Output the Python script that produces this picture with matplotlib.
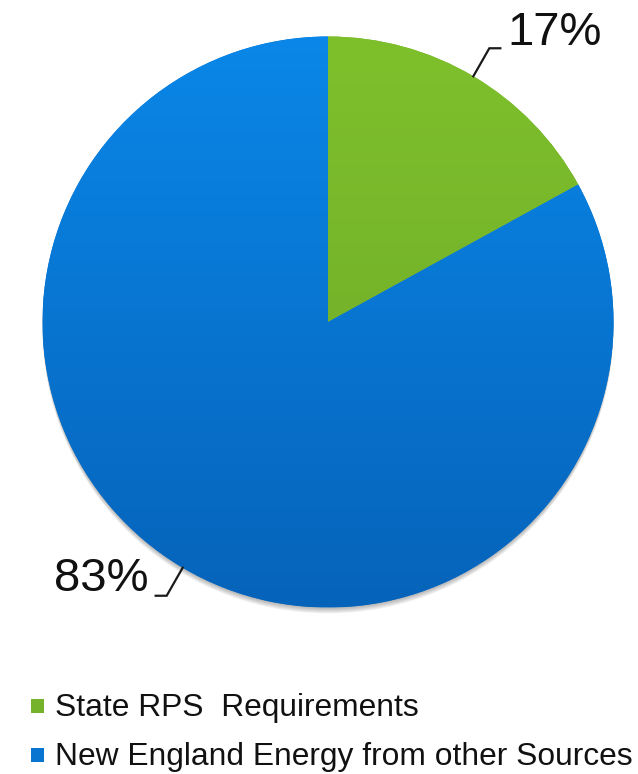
import numpy as np
import matplotlib
matplotlib.use("Agg")
import matplotlib.pyplot as plt
from matplotlib.colors import LinearSegmentedColormap
from matplotlib.patches import Circle, Rectangle

plt.rcParams['font.family'] = ['Liberation Sans', 'DejaVu Sans']

# Share of New England energy
categories = ["State RPS  Requirements", "New England Energy from other Sources"]
shares = [17, 83]
pct_labels = ["17%", "83%"]
top_colors = ["#7EC02C", "#0A87E8"]
bottom_colors = ["#6CA728", "#0663BA"]

W, H = 638, 774
fig = plt.figure(figsize=(W / 100, H / 100), dpi=100)
fig.patch.set_facecolor("white")

# Pie center / radius in pixels
cx, cy, R = 328, 322, 285.5
half = 300
ax = fig.add_axes([(cx - half) / W, (H - cy - half) / H, 2 * half / W, 2 * half / H])
lim = half / R
px = 1.0 / R  # one pixel in data units

# soft drop shadow, falling mostly below the pie
for k in range(1, 7):
    ax.add_patch(Circle((0, -k * px), 1.0, facecolor="black",
                        edgecolor="none", alpha=0.05, zorder=0))

mid_colors = []
for t, b in zip(top_colors, bottom_colors):
    c1 = np.array(matplotlib.colors.to_rgb(t))
    c2 = np.array(matplotlib.colors.to_rgb(b))
    mid_colors.append(tuple((c1 + c2) / 2))

wedges, _ = ax.pie(shares, startangle=90, counterclock=False, radius=1.0,
                   colors=mid_colors, wedgeprops=dict(linewidth=0, antialiased=True))
for w in wedges:
    w.set_zorder(1)

# vertical gradient fill clipped to each wedge
grad = np.linspace(0, 1, 256).reshape(-1, 1)
for w, t, b in zip(wedges, top_colors, bottom_colors):
    cmap = LinearSegmentedColormap.from_list("g", [t, b])
    im = ax.imshow(grad, extent=(-1, 1, -1, 1), origin="upper", cmap=cmap,
                   aspect="auto", zorder=2, interpolation="bilinear")
    im.set_clip_path(w)

# leader lines and percentage labels
for w, lab in zip(wedges, pct_labels):
    ang = np.deg2rad((w.theta1 + w.theta2) / 2)
    x0, y0 = np.cos(ang), np.sin(ang)
    sx = 1 if x0 >= 0 else -1
    sy = 1 if y0 >= 0 else -1
    ex, ey = x0 + sx * 16 * px, y0 + sy * 28 * px
    hx = ex + sx * 11 * px
    ax.plot([x0, ex, hx], [y0, ey, ey], color="#1a1a1a", lw=1.6, zorder=3,
            solid_joinstyle="miter", clip_on=False)
    ty = ey + 3 * px if sy > 0 else ey + 5 * px
    ax.text(hx + sx * 7 * px, ty, lab, ha="left" if sx > 0 else "right",
            va="baseline", fontsize=34, color="#111111", zorder=4, clip_on=False)

ax.set_xlim(-lim, lim)
ax.set_ylim(-lim, lim)
ax.set_aspect("equal")
ax.axis("off")

# legend
leg_rows = [716, 765]
for lab, col, yb in zip(categories, mid_colors, leg_rows):
    fig.patches.append(Rectangle((31 / W, (H - yb + 3) / H), 13 / W, 14 / H,
                                 transform=fig.transFigure, facecolor=col,
                                 edgecolor="none"))
    fig.text(55 / W, (H - yb) / H, lab, ha="left", va="baseline",
             fontsize=22.9, color="#111111")

fig.savefig("out.png", dpi=100, facecolor="white")
